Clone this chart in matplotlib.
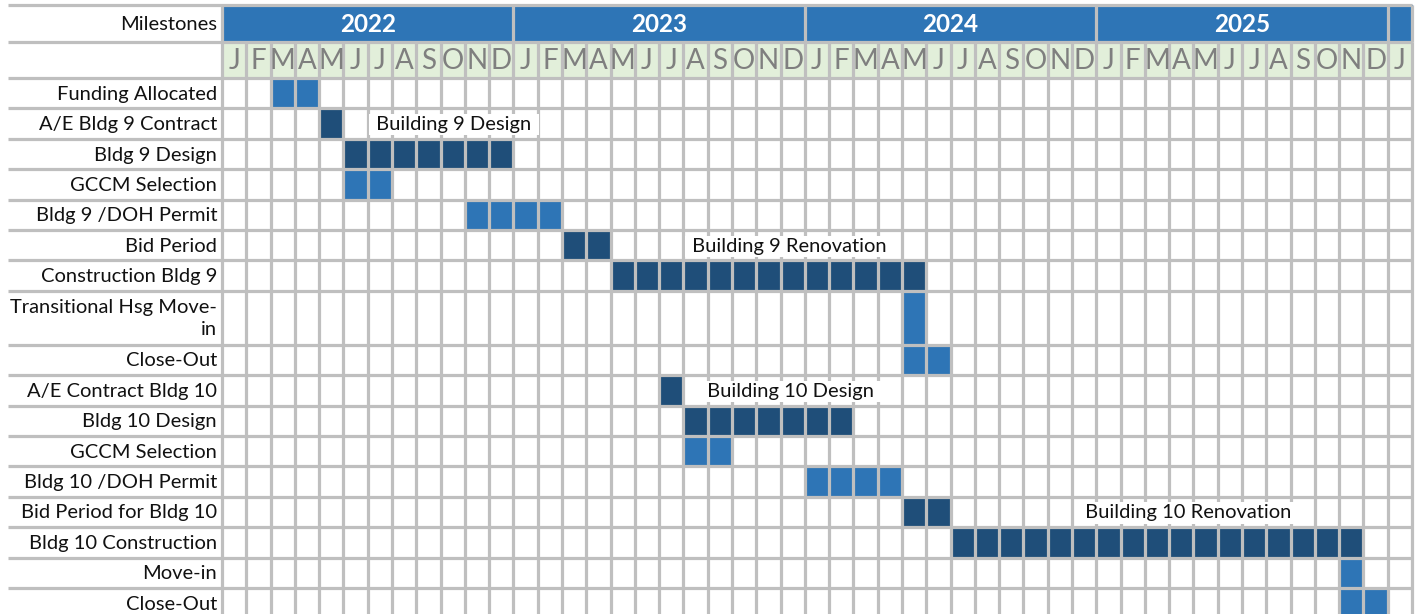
import numpy as np
import matplotlib
matplotlib.use("Agg")
import matplotlib.pyplot as plt
from matplotlib.patches import Rectangle

plt.rcParams['font.family'] = ['Lato', 'DejaVu Sans']

# --- data ---
years = [2022, 2023, 2024, 2025]
month_letters = list("JFMAMJJASOND") * 4 + ["J"]

tasks = ["Funding Allocated", "A/E Bldg 9 Contract", "Bldg 9 Design", "GCCM Selection",
         "Bldg 9 /DOH Permit", "Bid Period", "Construction Bldg 9",
         "Transitional Hsg Move-\nin", "Close-Out", "A/E Contract Bldg 10",
         "Bldg 10 Design", "GCCM Selection", "Bldg 10 /DOH Permit",
         "Bid Period for Bldg 10", "Bldg 10 Construction", "Move-in", "Close-Out"]
start_month = [2, 4, 5, 5, 10, 14, 16, 28, 28, 18, 19, 19, 24, 28, 30, 46, 46]  # 0 = Jan 2022
n_months = [2, 1, 7, 2, 4, 2, 13, 1, 2, 1, 7, 2, 4, 2, 17, 1, 2]
phase = ["light", "dark", "dark", "light", "light", "dark", "dark", "light", "light",
         "dark", "dark", "light", "light", "dark", "dark", "light", "light"]

notes = ["Building 9 Design", "Building 9 Renovation", "Building 10 Design", "Building 10 Renovation"]
note_rows = [1, 5, 9, 13]

# --- layout / style ---
W_PX, H_PX = 1418, 614
LEFT_PX = 222
n_cols = len(month_letters)
col_w = (1412 - LEFT_PX) / n_cols
note_x = [6.15, 19.15, 19.75, 35.35]

grid_c = "#BFBFBF"
colors = {"light": "#2E75B6", "dark": "#1F4E79"}
fs = 14.5

top, year_bot, month_bot = 5, 42, 78
row_h = [30.4] * len(tasks)
row_h[7] = 54
row_edges = month_bot + np.concatenate([[0], np.cumsum(row_h)])

fig = plt.figure(figsize=(W_PX / 100, H_PX / 100), dpi=100)
ax = fig.add_axes([0, 0, 1, 1])
ax.set_xlim(-LEFT_PX / col_w, (W_PX - LEFT_PX) / col_w)
ax.set_ylim(H_PX, 0)
ax.axis("off")

x_left = -(LEFT_PX - 8) / col_w
lbl_x = -5 / col_w

# header: years
ax.add_patch(Rectangle((0, top), n_cols, year_bot - top, color="#2E75B6", zorder=1))
for i, yr in enumerate(years):
    ax.text(i * 12 + 6, (top + year_bot) / 2 + 1, str(yr), ha="center", va="center",
            color="white", fontsize=17.5, fontweight="bold", zorder=5)
ax.text(lbl_x, (top + year_bot) / 2 + 1, "Milestones", ha="right", va="center",
        fontsize=fs, color="#111111", zorder=5)

# header: months
ax.add_patch(Rectangle((0, year_bot), n_cols, month_bot - year_bot, color="#E2EFDA", zorder=1))
for i, m in enumerate(month_letters):
    ax.text(i + 0.5, (year_bot + month_bot) / 2 + 1, m, ha="center", va="center",
            color="#7F7F7F", fontsize=20, zorder=5)

# task labels and bars
for i, t in enumerate(tasks):
    yc = (row_edges[i] + row_edges[i + 1]) / 2
    ax.text(lbl_x, yc + 1, t, ha="right", va="center", fontsize=fs, color="#111111",
            linespacing=1.35, multialignment="right", zorder=5)
ax.bar(start_month, row_h, width=n_months, bottom=row_edges[:-1], align="edge",
       color=[colors[p] for p in phase], zorder=2)

# phase notes
for txt, r, x in zip(notes, note_rows, note_x):
    yc = (row_edges[r] + row_edges[r + 1]) / 2
    ax.text(x, yc + 1, " " + txt + " ", ha="left", va="center", fontsize=fs, color="#111111",
            bbox=dict(boxstyle="square,pad=0.1", fc="white", ec="none"), zorder=4)

# grid
lw = 2.3
ax.vlines(np.arange(n_cols + 1), year_bot, H_PX, color=grid_c, lw=lw, zorder=3)
ax.vlines([0, 12, 24, 36, 48, 49], top, year_bot, color=grid_c, lw=lw, zorder=3)
ax.hlines(np.concatenate([[top, year_bot, month_bot], row_edges[1:]]), x_left, n_cols,
          color=grid_c, lw=lw, zorder=6)

fig.savefig("out.png", dpi=100)
